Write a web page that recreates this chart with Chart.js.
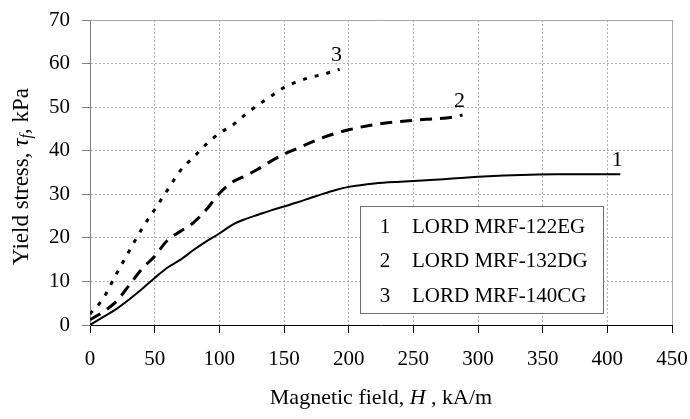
<!DOCTYPE html>
<html>
<head>
<meta charset="utf-8">
<script src="https://cdn.jsdelivr.net/npm/chart.js@4/dist/chart.umd.min.js"></script>
<style>
  html, body { margin: 0; padding: 0; background: #fff; }
  #wrap { width: 690px; height: 419px; }
</style>
</head>
<body>
<div id="wrap"><canvas id="chart" width="690" height="419"></canvas></div>
<script>
// fluid names and curve numbers
var fluidNames = ['LORD MRF-122EG', 'LORD MRF-132DG', 'LORD MRF-140CG'];
var curveNumbers = ['1', '2', '3'];

// magnetic field H, kA/m  /  yield stress, kPa
var field1 = [0, 10, 20, 30, 40, 50, 60, 70, 80, 90, 100, 110, 120, 130, 140, 150, 160, 170, 180, 190, 200, 220, 240, 260, 280, 300, 320, 340, 360, 380, 400, 410];
var stress1 = [0, 1.8, 3.6, 5.8, 8.2, 10.8, 13.2, 15.0, 17.2, 19.2, 21.0, 23.0, 24.3, 25.3, 26.3, 27.2, 28.1, 29.1, 30.1, 31.0, 31.7, 32.5, 32.9, 33.2, 33.6, 34.0, 34.3, 34.5, 34.6, 34.6, 34.6, 34.6];

var field2 = [0, 10, 20, 30, 40, 50, 60, 70, 80, 90, 100, 110, 120, 130, 140, 150, 160, 170, 180, 190, 200, 220, 240, 260, 280, 288];
var stress2 = [1.2, 3.0, 5.3, 9.0, 12.8, 15.8, 19.5, 21.5, 23.5, 26.5, 30.2, 32.8, 34.2, 35.8, 37.6, 39.2, 40.5, 41.8, 43.0, 44.0, 44.8, 46.0, 46.7, 47.2, 47.7, 48.2];

var field3 = [0, 10, 20, 30, 40, 50, 60, 70, 80, 90, 100, 110, 120, 130, 140, 150, 160, 170, 180, 193];
var stress3 = [2.5, 6.0, 11.5, 16.8, 22.0, 26.5, 31.0, 35.5, 38.5, 41.5, 44.0, 45.8, 48.3, 50.5, 52.5, 54.5, 55.8, 56.8, 57.5, 58.7];

var xTicks = [0, 50, 100, 150, 200, 250, 300, 350, 400, 450];
var yTicks = [0, 10, 20, 30, 40, 50, 60, 70];

var SERIF = '"Liberation Serif", "Times New Roman", serif';

function toPoints(xs, ys) {
    return xs.map(function (x, i) { return { x: x, y: ys[i] }; });
}

function drawParts(ctx, parts, cx, cy) {
    var total = 0;
    parts.forEach(function (p) {
        ctx.font = p.font;
        p.w = ctx.measureText(p.text).width;
        total += p.w;
    });
    var x = cx - total / 2;
    parts.forEach(function (p) {
        ctx.font = p.font;
        ctx.fillText(p.text, x, cy + (p.dy || 0));
        x += p.w;
    });
}

// axis titles, frame, curve numbers and boxed legend
var decorPlugin = {
    id: 'decor',
    afterDraw: function (chart) {
        var ctx = chart.ctx;
        var area = chart.chartArea;
        ctx.save();
        ctx.fillStyle = '#000';
        ctx.textBaseline = 'middle';
        ctx.textAlign = 'left';

        // x title
        drawParts(ctx, [
            { text: 'Magnetic field, ', font: '22px ' + SERIF },
            { text: 'H', font: 'italic 22px ' + SERIF },
            { text: ' , kA/m', font: '22px ' + SERIF }
        ], (area.left + area.right) / 2, 398);

        // y title
        ctx.save();
        ctx.translate(22, (area.top + area.bottom) / 2 + 4);
        ctx.rotate(-Math.PI / 2);
        drawParts(ctx, [
            { text: 'Yield stress, ', font: '23px ' + SERIF },
            { text: '\u03C4', font: 'italic 23px ' + SERIF },
            { text: 'f', font: 'italic 16px ' + SERIF, dy: 5 },
            { text: ', kPa', font: '23px ' + SERIF }
        ], 0, 0);
        ctx.restore();

        // curve numbers at line ends
        ctx.font = '22px ' + SERIF;
        ctx.textAlign = 'center';
        chart.data.datasets.forEach(function (ds, i) {
            var meta = chart.getDatasetMeta(i);
            var last = meta.data[meta.data.length - 1];
            ctx.fillText(curveNumbers[i], last.x - 3, last.y - 14);
        });

        // legend box
        var bx = 360, by = 206, bw = 243, bh = 107;
        ctx.fillStyle = '#fff';
        ctx.fillRect(bx, by, bw, bh);
        ctx.strokeStyle = '#707070';
        ctx.lineWidth = 1;
        ctx.strokeRect(bx + 0.5, by + 0.5, bw, bh);
        ctx.fillStyle = '#000';
        ctx.font = '21px ' + SERIF;
        fluidNames.forEach(function (name, i) {
            var ry = by + 21 + i * 34.7;
            ctx.textAlign = 'center';
            ctx.fillText(curveNumbers[i], bx + 25, ry);
            ctx.textAlign = 'left';
            ctx.fillText(name, bx + 52, ry);
        });
        ctx.restore();
    },
    beforeDatasetsDraw: function (chart) {
        // solid grey top and right frame
        var ctx = chart.ctx;
        var area = chart.chartArea;
        ctx.save();
        ctx.strokeStyle = '#a8a8a8';
        ctx.lineWidth = 1;
        ctx.beginPath();
        ctx.moveTo(area.left, area.top + 0.5);
        ctx.lineTo(area.right + 0.5, area.top + 0.5);
        ctx.lineTo(area.right + 0.5, area.bottom);
        ctx.stroke();
        ctx.restore();
    }
};

var ctx = document.getElementById('chart').getContext('2d');
var chart = new Chart(ctx, {
    type: 'line',
    data: {
        datasets: [
            {
                label: fluidNames[0],
                data: toPoints(field1, stress1),
                borderColor: '#000',
                borderWidth: 2,
                pointRadius: 0,
                cubicInterpolationMode: 'monotone'
            },
            {
                label: fluidNames[1],
                data: toPoints(field2, stress2),
                borderColor: '#000',
                borderWidth: 3,
                borderDash: [12, 8],
                pointRadius: 0,
                cubicInterpolationMode: 'monotone'
            },
            {
                label: fluidNames[2],
                data: toPoints(field3, stress3),
                borderColor: '#000',
                borderWidth: 3,
                borderDash: [4, 8],
                pointRadius: 0,
                cubicInterpolationMode: 'monotone'
            }
        ]
    },
    options: {
        responsive: false,
        animation: false,
        layout: { padding: { top: 20, right: 18, left: 0, bottom: 0 } },
        plugins: {
            legend: { display: false },
            tooltip: { enabled: false }
        },
        scales: {
            x: {
                type: 'linear',
                min: xTicks[0],
                max: xTicks[xTicks.length - 1],
                afterBuildTicks: function (s) { s.ticks = xTicks.map(function (v) { return { value: v }; }); },
                afterFit: function (s) {
                    s.height = 94;
                    s.paddingLeft = 0;
                    s.paddingRight = 0;
                },
                ticks: {
                    font: { family: SERIF, size: 21 },
                    color: '#000',
                    padding: 14,
                    maxRotation: 0
                },
                grid: {
                    color: '#b0b0b0',
                    tickColor: '#000',
                    tickLength: 8
                },
                border: { color: '#000', width: 1, dash: [2, 2] }
            },
            y: {
                min: yTicks[0],
                max: yTicks[yTicks.length - 1],
                afterBuildTicks: function (s) { s.ticks = yTicks.map(function (v) { return { value: v }; }); },
                afterFit: function (s) {
                    s.width = 90;
                    s.paddingTop = 0;
                    s.paddingBottom = 0;
                },
                ticks: {
                    font: { family: SERIF, size: 21 },
                    color: '#000',
                    padding: 12
                },
                grid: {
                    color: '#b0b0b0',
                    tickColor: '#808080',
                    tickLength: 8
                },
                border: { color: '#808080', width: 1, dash: [2, 2] }
            }
        }
    },
    plugins: [decorPlugin]
});
</script>
</body>
</html>
